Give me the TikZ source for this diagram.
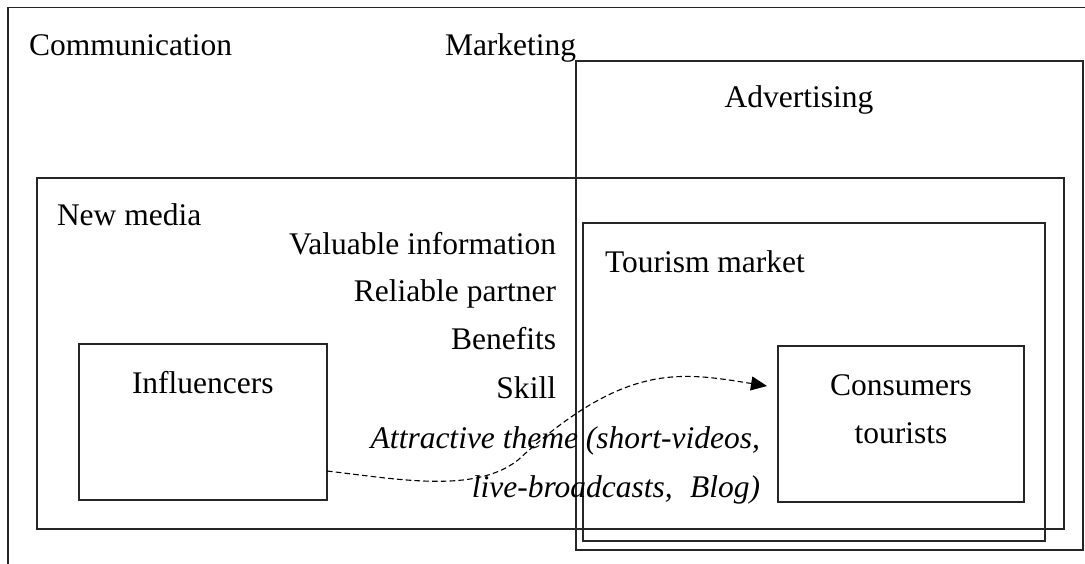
\documentclass[tikz,border=0pt]{standalone}
\usepackage{fontspec}
\setmainfont{Liberation Serif}
\usetikzlibrary{arrows.meta}
\begin{document}
\begin{tikzpicture}[x=0.5pt,y=-0.5pt,
  frame/.style={draw=black!85, line width=0.6pt, inner sep=0pt, outer sep=0pt},
  lbl/.style={inner sep=0pt, outer sep=0pt, font=\fontsize{15.75}{18}\selectfont},
  itlbl/.style={lbl, font=\fontsize{15.75}{18}\selectfont\itshape},
  flow/.style={draw=black, line width=0.55pt, dash pattern=on 2.8pt off 1.6pt,
    -{Triangle[length=8pt,width=7pt]}}
]
\useasboundingbox (0,0) rectangle (1085,563);
\clip (0,0) rectangle (1085,563);
\fill[white] (0,0) rectangle (1085,563);

% communication frame, running off the right and bottom edges
\draw[black!85, line width=0.6pt] (1100,7.5) -- (8,7.5) -- (8,580);

% nested areas
\node[frame, minimum width=253.5pt, minimum height=244.5pt] (adv) at (829.5,305.5) {};
\node[frame, minimum width=513.5pt, minimum height=175.5pt] (newmedia) at (550.5,353.5) {};
\node[frame, minimum width=231pt, minimum height=159pt] (market) at (814,382) {};
\node[frame, minimum width=124pt, minimum height=78pt] (infl) at (203,422) {};
\node[frame, minimum width=123pt, minimum height=78pt] (cons) at (901,424) {};

% area titles
\node[lbl, anchor=base west] (tcomm) at (29,55) {Communication};
\node[lbl, anchor=base west] (tmark) at (445,55) {Marketing};
\node[lbl, anchor=base] (tadv) at (799,107) {Advertising};
\node[lbl, anchor=base west] (tnew) at (57,225) {New media};
\node[lbl, anchor=base west] (tmkt) at (605,272) {Tourism market};
\node[lbl, anchor=base west] (tinfl) at (132,393) {Influencers};
\node[lbl, anchor=base] (tcons1) at (901,395) {Consumers};
\node[lbl, anchor=base] (tcons2) at (901,443) {tourists};

% what influencers offer
\node[lbl, anchor=base east] (v1) at (556,254) {Valuable information};
\node[lbl, anchor=base east] (v2) at (556,301) {Reliable partner};
\node[lbl, anchor=base east] (v3) at (556,349) {Benefits};
\node[lbl, anchor=base east] (v4) at (556,398) {Skill};
\node[itlbl, anchor=base east] (v5) at (760,448) {Attractive theme (short-videos,};
\node[itlbl, anchor=base east] (v6) at (760,497) {live-broadcasts,\hspace{0.55em}Blog)};

% influence path from influencers to consumers
\coordinate (src) at ([yshift=-24.5pt]infl.east);
\coordinate (dst) at ([xshift=-5.5pt,yshift=19pt]cons.west);
\draw[flow] (src) .. controls (397,479) and (475,494) .. (518,460)
  .. controls (625,362) and (680,372) .. (dst);
\end{tikzpicture}
\end{document}
